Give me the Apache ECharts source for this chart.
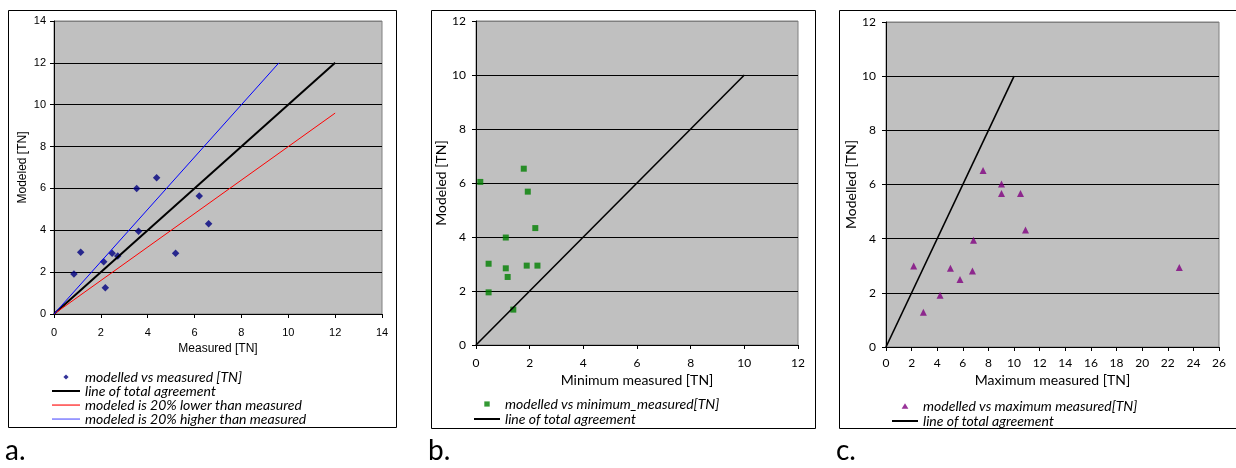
<!DOCTYPE html>
<html><head><meta charset="utf-8">
<script src="https://cdn.jsdelivr.net/npm/echarts@6/dist/echarts.min.js"></script>
<style>html,body{margin:0;padding:0;background:#fff}#c{width:1236px;height:468px}</style>
</head><body><div id="c"></div>
<script>
// Panel a
const measuredA = [0.85, 1.14, 2.12, 2.19, 2.48, 2.72, 3.53, 3.61, 4.38, 5.19, 6.2, 6.6];
const modeledA  = [1.91, 2.95, 2.5, 1.26, 2.9, 2.77, 6.0, 3.95, 6.51, 2.9, 5.64, 4.31];
const agreeAX = [0, 12], agreeAY = [0, 12];
const lowerAX = [0, 12], lowerAY = [0, 9.6];
const higherAX = [0, 9.6], higherAY = [0, 12];
// Panel b
const minMeasuredB = [0.16, 1.78, 1.93, 2.21, 1.11, 0.47, 1.11, 1.18, 1.89, 2.29, 0.47, 1.39];
const modeledB     = [6.04, 6.53, 5.68, 4.33, 3.98, 3.01, 2.84, 2.52, 2.94, 2.94, 1.95, 1.31];
const agreeBX = [0, 10], agreeBY = [0, 10];
// Panel c
const maxMeasuredC = [2.16, 2.92, 4.22, 5.03, 5.78, 6.75, 6.83, 7.58, 9.02, 9.02, 10.5, 10.89, 22.9];
const modeledC     = [2.99, 1.28, 1.91, 2.91, 2.49, 2.81, 3.94, 6.52, 6.02, 5.67, 5.67, 4.32, 2.94];
const agreeCX = [0, 10], agreeCY = [0, 10];

const namesA = ['modelled vs measured [TN]', 'line of total agreement', 'modeled is 20% lower than measured', 'modeled is 20% higher than measured'];
const namesB = ['modelled vs minimum_measured[TN]', 'line of total agreement '];
const namesC = ['modelled vs maximum measured[TN]', 'line of total agreement  '];
const panelLabels = ['a.', 'b.', 'c.'];
const axisTitles = [['Measured [TN]', 'Modeled [TN]'], ['Minimum measured [TN]', 'Modeled [TN]'], ['Maximum measured [TN]', 'Modelled [TN]']];

const zip = (a, b) => a.map((v, i) => [v, b[i]]);
const ARIAL = 'Liberation Sans';
const CAL = 'Lato';

function splitColors(n) { const c = []; for (let i = 0; i < n; i++) c.push(i === n - 1 ? '#808080' : '#000'); return c; }

function xAx(idx, max, font, fs, title, tfs, labelMargin, gap) {
  return {
    gridIndex: idx, type: 'value', min: 0, max: max, interval: 2,
    name: title, nameLocation: 'middle', nameGap: gap,
    nameTextStyle: { fontFamily: font, fontSize: tfs, color: '#000' },
    axisLine: { lineStyle: { color: '#000', width: 1 } },
    axisTick: { show: true, length: 4, lineStyle: { color: '#000' } },
    axisLabel: { fontFamily: font, fontSize: fs, color: '#000', margin: labelMargin },
    splitLine: { show: false }
  };
}
function yAx(idx, max, font, fs, title, tfs, labelMargin, gap) {
  return {
    gridIndex: idx, type: 'value', min: 0, max: max, interval: 2,
    name: title, nameLocation: 'middle', nameGap: gap,
    nameTextStyle: { fontFamily: font, fontSize: tfs, color: '#000' },
    axisLine: { show: true, lineStyle: { color: '#000', width: 1 } },
    axisTick: { show: true, length: 4, lineStyle: { color: '#000' } },
    axisLabel: { fontFamily: font, fontSize: fs, color: '#000', margin: labelMargin },
    splitLine: { show: true, lineStyle: { color: splitColors(max / 2 + 1), width: 1 } }
  };
}

const gridStyle = { show: true, backgroundColor: '#C0C0C0', borderColor: '#808080', borderWidth: 1 };
const legendText = (lh) => ({ fontFamily: CAL, fontSize: 14, fontStyle: 'italic', color: '#000', lineHeight: lh });

// legend icon paths (bounding box fixed by leading move-to points)
const iconDiamond = 'path://M0,0 M28,8 M14,1.5 L16.6,4 L14,6.5 L11.4,4 Z';
const iconLine2W28 = 'path://M0,0 M28,8 M0,3 L28,3 L28,5 L0,5 Z';
const iconLine1W28 = 'path://M0,0 M28,8 M0,3.5 L28,3.5 L28,4.6 L0,4.6 Z';
const iconSquare = 'path://M0,0 M26,8 M10.3,1.4 L15.7,1.4 L15.7,6.6 L10.3,6.6 Z';
const iconTriangle = 'path://M0,0 M26,8 M13,1.2 L16.4,6.8 L9.6,6.8 Z';
const iconLine2W26 = 'path://M0,0 M26,8 M0,3 L26,3 L26,5 L0,5 Z';

const chart = echarts.init(document.getElementById('c'), null, { renderer: 'canvas' });
chart.setOption({
  animation: false,
  backgroundColor: '#fff',
  grid: [
    Object.assign({ left: 54, top: 21, width: 328, height: 293 }, gridStyle),
    Object.assign({ left: 476, top: 21, width: 322, height: 324 }, gridStyle),
    Object.assign({ left: 886, top: 22, width: 333, height: 325 }, gridStyle)
  ],
  xAxis: [
    xAx(0, 14, ARIAL, 11, axisTitles[0][0], 12, 13, 27),
    xAx(1, 12, CAL, 12, axisTitles[1][0], 14, 12, 26),
    xAx(2, 26, CAL, 12, axisTitles[2][0], 14, 10, 26)
  ],
  yAxis: [
    yAx(0, 14, ARIAL, 11, axisTitles[0][1], 12, 8, 25),
    yAx(1, 12, CAL, 12, axisTitles[1][1], 14, 10, 24),
    yAx(2, 12, CAL, 12, axisTitles[2][1], 14, 10, 26)
  ],
  legend: [
    { data: [{ name: namesA[0], icon: iconDiamond }, { name: namesA[1], icon: iconLine2W28 }, { name: namesA[2], icon: iconLine1W28 }, { name: namesA[3], icon: iconLine1W28 }],
      orient: 'vertical', left: 52, top: 370, itemWidth: 28, itemHeight: 8, itemGap: 0, padding: 0, textStyle: legendText(14) },
    { data: [{ name: namesB[0], icon: iconSquare }, { name: namesB[1], icon: iconLine2W26 }],
      orient: 'vertical', left: 474, top: 396.5, itemWidth: 26, itemHeight: 8, itemGap: 0, padding: 0, textStyle: legendText(15) },
    { data: [{ name: namesC[0], icon: iconTriangle }, { name: namesC[1], icon: iconLine2W26 }],
      orient: 'vertical', left: 892, top: 398.5, itemWidth: 26, itemHeight: 8, itemGap: 0, padding: 0, textStyle: legendText(15) }
  ],
  series: [
    { name: namesA[1], type: 'line', xAxisIndex: 0, yAxisIndex: 0, data: zip(agreeAX, agreeAY), symbol: 'none', itemStyle: { color: '#000' }, lineStyle: { color: '#000', width: 2 } },
    { name: namesA[2], type: 'line', xAxisIndex: 0, yAxisIndex: 0, data: zip(lowerAX, lowerAY), symbol: 'none', itemStyle: { color: '#FF0000' }, lineStyle: { color: '#FF0000', width: 1 } },
    { name: namesA[3], type: 'line', xAxisIndex: 0, yAxisIndex: 0, data: zip(higherAX, higherAY), symbol: 'none', itemStyle: { color: '#5050FF' }, lineStyle: { color: '#0000FF', width: 1 } },
    { name: namesA[0], type: 'scatter', xAxisIndex: 0, yAxisIndex: 0, data: zip(measuredA, modeledA), symbol: 'diamond', symbolSize: 7.5, itemStyle: { color: '#000080' } },
    { name: namesB[1], type: 'line', xAxisIndex: 1, yAxisIndex: 1, data: zip(agreeBX, agreeBY), symbol: 'none', itemStyle: { color: '#000' }, lineStyle: { color: '#000', width: 1.6 } },
    { name: namesB[0], type: 'scatter', xAxisIndex: 1, yAxisIndex: 1, data: zip(minMeasuredB, modeledB), symbol: 'rect', symbolSize: 6, itemStyle: { color: '#008000' } },
    { name: namesC[1], type: 'line', xAxisIndex: 2, yAxisIndex: 2, data: zip(agreeCX, agreeCY), symbol: 'none', itemStyle: { color: '#000' }, lineStyle: { color: '#000', width: 1.6 } },
    { name: namesC[0], type: 'scatter', xAxisIndex: 2, yAxisIndex: 2, data: zip(maxMeasuredC, modeledC), symbol: 'triangle', symbolSize: 7, itemStyle: { color: '#800080' } }
  ],
  graphic: [
    { type: 'rect', shape: { x: 8.5, y: 10.5, width: 388, height: 417 }, style: { fill: 'none', stroke: '#000', lineWidth: 1 }, silent: true, z: -1 },
    { type: 'rect', shape: { x: 431.5, y: 10.5, width: 384, height: 418 }, style: { fill: 'none', stroke: '#000', lineWidth: 1 }, silent: true, z: -1 },
    { type: 'rect', shape: { x: 839.5, y: 10.5, width: 420, height: 418 }, style: { fill: 'none', stroke: '#000', lineWidth: 1 }, silent: true, z: -1 },
    { type: 'text', left: 5, top: 437, style: { text: panelLabels[0], font: '28px Lato', fill: '#000' } },
    { type: 'text', left: 428, top: 437, style: { text: panelLabels[1], font: '28px Lato', fill: '#000' } },
    { type: 'text', left: 836, top: 437, style: { text: panelLabels[2], font: '28px Lato', fill: '#000' } }
  ]
});
</script></body></html>
